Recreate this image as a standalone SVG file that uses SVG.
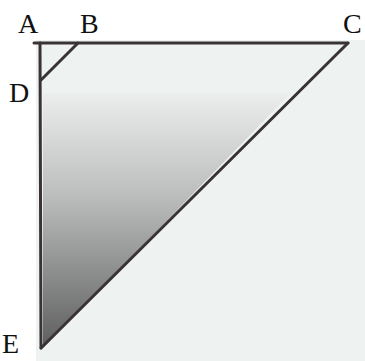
<svg xmlns="http://www.w3.org/2000/svg" width="365" height="361" viewBox="0 0 365 361">
<style>
.ln{stroke:#3a3336;stroke-width:3;fill:none;stroke-linecap:round}
.lb{font-family:"Liberation Serif","DejaVu Serif",serif;font-size:28px;fill:#111}
</style>
<defs>
<linearGradient id="g" x1="0" y1="0" x2="0" y2="1">
<stop offset="0" stop-color="#eceeee"/>
<stop offset="0.4" stop-color="#bcbebe"/>
<stop offset="1" stop-color="#5e5e5e"/>
</linearGradient>
</defs>
<rect x="0" y="0" width="365" height="361" fill="#fff"/>
<rect x="36" y="40" width="329" height="321" fill="#eef3f2"/>
<g id="shade">
<polygon points="43,93 291,93 43,348" fill="url(#g)"/>
</g>
<g id="connectors">
<line class="ln" x1="34" y1="43" x2="348" y2="43"/>
<line class="ln" x1="40" y1="43" x2="41" y2="348"/>
<line class="ln" x1="78" y1="43" x2="41" y2="80"/>
<line class="ln" x1="348" y1="43" x2="41" y2="348"/>
</g>
<g id="A"><text class="lb" x="18" y="33">A</text></g>
<g id="B"><text class="lb" x="80" y="33">B</text></g>
<g id="C"><text class="lb" x="343" y="33">C</text></g>
<g id="D"><text class="lb" x="9" y="102">D</text></g>
<g id="E"><text class="lb" x="2" y="353">E</text></g>
</svg>
